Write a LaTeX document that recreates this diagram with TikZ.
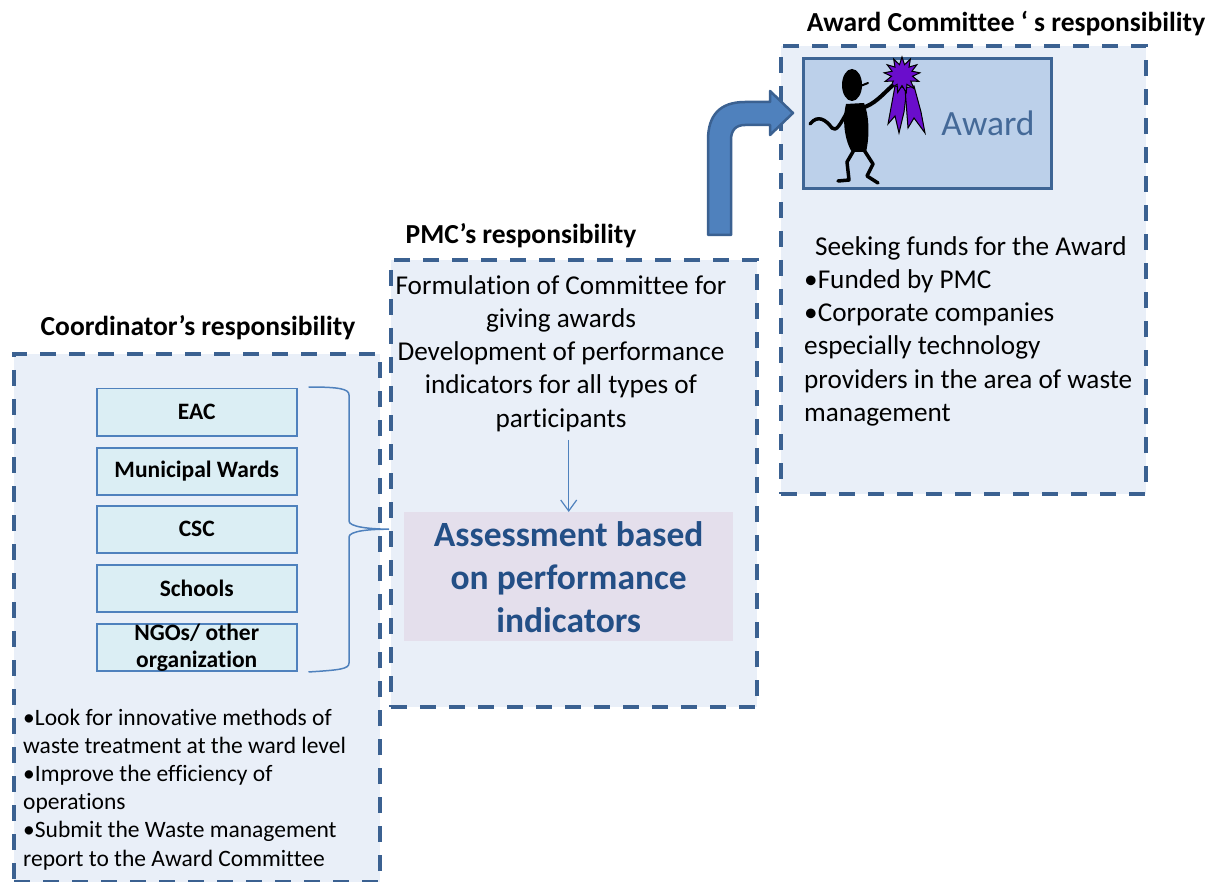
\documentclass[tikz,border=0pt]{standalone}
\usepackage{fontspec}
\setmainfont{Carlito}[Ligatures={NoCommon}]
\usepackage{tikz}
\usetikzlibrary{calc,shapes.geometric,arrows.meta}

\definecolor{framefill}{HTML}{E9EFF8}
\definecolor{frameline}{HTML}{3B6191}
\definecolor{itemfill}{HTML}{DBEEF4}
\definecolor{itemline}{HTML}{4F81BD}
\definecolor{awardfill}{HTML}{BCD0EA}
\definecolor{awardline}{HTML}{3E6595}
\definecolor{assessfill}{HTML}{E4DFEC}
\definecolor{darkblue}{HTML}{234F86}
\definecolor{arrowblue}{HTML}{4F81BD}
\definecolor{ribbon}{HTML}{6A0DCC}

\tikzset{
	frame/.style={draw=frameline, fill=framefill, line width=4pt, dash pattern=on 16pt off 13pt, anchor=north west, inner sep=0pt},
	title/.style={font=\fontsize{27.5}{30}\selectfont\bfseries},
	itembox/.style={draw=itemline, fill=itemfill, line width=1.5pt, minimum width=200pt, minimum height=47pt, anchor=north west, inner sep=0pt, font=\fontsize{23.5}{26}\selectfont\bfseries, align=center},
	body/.style={font=\fontsize{27.2}{33.3}\selectfont, inner sep=0pt},
	flow/.style={draw=itemline, line width=1.2pt, -{Straight Barb[length=11pt,width=16pt]}},
}

\begin{document}
\begin{tikzpicture}[x=1pt, y=-1pt]
			%%%%% START %%%%%
			\useasboundingbox (0, 0) rectangle (1218, 882);
			
			% the three dashed frames
			\node[frame, minimum width=366pt, minimum height=528pt] (coord) at (12, 352) {};
			\node[frame, minimum width=366pt, minimum height=447pt] (pmc) at (389, 258) {};
			\node[frame, minimum width=365pt, minimum height=448pt] (awc) at (779, 44) {};
			
			\node[title] (coordtitle) at (198, 328) {Coordinator’s responsibility};
			\node[title] (pmctitle) at (521, 236) {PMC’s responsibility};
			\node[title] (awctitle) at (1006, 24) {Award Committee ‘ s responsibility};
			
			% participants
			\node[itembox] (eac) at (96, 388) {EAC};
			\node[itembox] (wards) at (96, 447) {Municipal Wards};
			\node[itembox] (csc) at (96, 505) {CSC};
			\node[itembox] (schools) at (96, 564) {Schools};
			\node[itembox, font=\fontsize{23.5}{27}\selectfont\bfseries] (ngo) at (96, 623) {NGOs/ other\\organization};
			
			% brace gathering the participants
			\coordinate (bracetop) at ($(eac.north east)+(11, -1)$);
			\coordinate (bracebot) at ($(ngo.south east)+(11, 0)$);
			\coordinate (bracetip) at (pmc.west |- csc.east);
			\draw[itemline, line width=1.5pt] (bracetop) .. controls (340, 387) and (349, 389) .. (349, 395) -- (349, 521)
				.. controls (349, 527) and (370, 529) .. (bracetip)
				.. controls (370, 529) and (349, 531) .. (349, 537) -- (349, 663)
				.. controls (349, 669) and (340, 670) .. (bracebot);
			
			\node[font=\fontsize{23.5}{28.1}\selectfont, inner sep=0pt, anchor=north west, align=left] (coordtext) at (23, 709)
				{•Look for innovative methods of\\waste treatment at the ward level\\•Improve the efficiency of\\operations\\•Submit the Waste management\\report to the Award Committee};
			
			% PMC
			\node[body, align=center, anchor=north] (pmctext) at (561, 275)
				{Formulation of Committee for\\giving awards\\Development of performance\\indicators for all types of\\participants};
			\node[fill=assessfill, minimum width=329pt, minimum height=129pt, anchor=north west, inner sep=0pt,
				font=\fontsize{35.5}{43}\selectfont\bfseries, text=darkblue, align=center] (assess) at (404, 512)
				{Assessment based\\on performance\\indicators};
			\draw[flow, shorten <=8pt] (pmctext.south -| assess.north) -- (assess.north);
			
			% bent arrow up to the award
			\draw[draw=frameline, fill=arrowblue, line width=2.5pt, line join=round] (708, 235) -- (708, 140)
				.. controls (708, 115) and (720, 102) .. (745, 102) -- (770, 102) -- (770, 91) -- (793, 113)
				-- (770, 135) -- (770, 125) -- (745, 125) .. controls (736, 125) and (731, 130) .. (731, 140)
				-- (731, 235) -- cycle;
			
			% Award Committee
			\node[draw=awardline, fill=awardfill, line width=3pt, minimum width=248pt, minimum height=130pt,
				anchor=north west, inner sep=0pt] (award) at (802, 57) {};
			\node[font=\fontsize{35.5}{40}\selectfont, text=darkblue!85!white] (awardlabel) at (988, 123) {Award};
			
			% man holding up the rosette
			\fill[ribbon, draw=black, line width=1pt] (895, 86) -- (888, 124) -- (895, 116) -- (899, 133) -- (904, 112) -- (907, 88) -- cycle;
			\fill[ribbon, draw=black, line width=1pt] (905, 88) -- (908, 128) -- (914, 118) -- (925, 133) -- (921, 112) -- (914, 86) -- cycle;
			\node[star, star points=13, star point ratio=1.7, fill=ribbon, draw=black, line width=1pt, minimum size=36pt, inner sep=0pt] (rosette) at (902, 75) {};
			\fill[black] (852, 85) ellipse [x radius=10pt, y radius=16pt];
			\draw[black, line width=2pt, line cap=round] (858, 87) -- (868, 83);
			\fill[black] (846, 104) .. controls (841, 125) and (847, 145) .. (852, 152) -- (866, 152)
				.. controls (870, 135) and (869, 115) .. (864, 103) -- cycle;
			\draw[black, line width=4pt, line cap=round, line join=round] (862, 108) .. controls (875, 104) and (882, 95) .. (892, 86);
			\draw[black, line width=3.5pt, line cap=round, line join=round] (847, 112) .. controls (840, 125) and (836, 132) .. (832, 128)
				.. controls (826, 120) and (818, 114) .. (810, 124);
			\draw[black, line width=3.5pt, line cap=round, line join=round] (854, 150) -- (847, 162) -- (849, 180) -- (838, 181);
			\draw[black, line width=3.5pt, line cap=round, line join=round] (864, 150) -- (873, 164) -- (867, 176) -- (878, 183);
			
			\node[body, anchor=north west, align=left] (awctext) at (804, 236)
				{\hspace*{11pt}Seeking funds for the Award\\•Funded by PMC\\•Corporate companies\\especially technology\\providers in the area of waste\\management};
			%%%%% END %%%%%
\end{tikzpicture}
\end{document}
